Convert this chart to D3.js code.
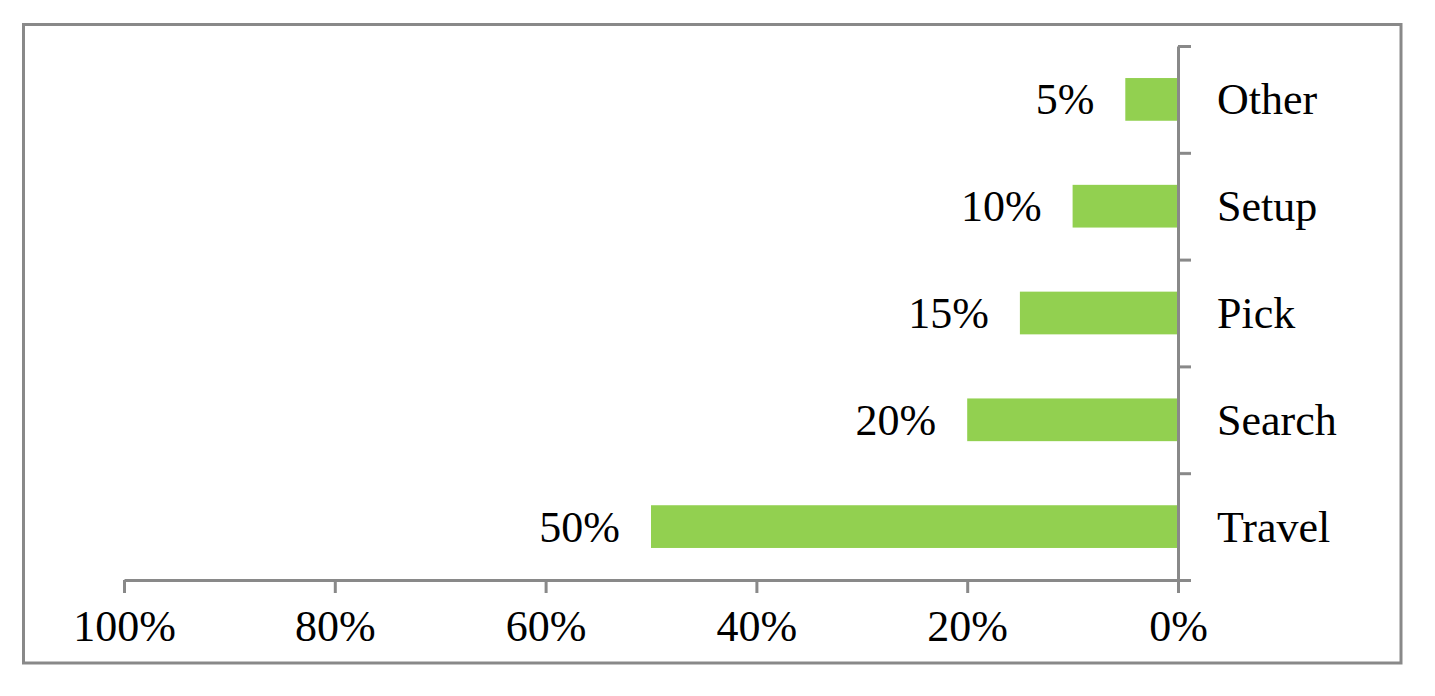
<!DOCTYPE html>
<html>
<head>
<meta charset="utf-8">
<script src="https://d3js.org/d3.v7.min.js"></script>
<style>
  html, body { margin: 0; padding: 0; background: #fff; }
  svg { display: block; }
  text { font-family: "Times New Roman", "Liberation Serif", serif; fill: #000; }
</style>
</head>
<body>
<svg id="chart" width="1435" height="696"></svg>
<script>
const categories = ["Other", "Setup", "Pick", "Search", "Travel"];
const values = [0.05, 0.10, 0.15, 0.20, 0.50];
const valueLabels = ["5%", "10%", "15%", "20%", "50%"];
const xTicks = [1.0, 0.8, 0.6, 0.4, 0.2, 0.0];
const xTickLabels = ["100%", "80%", "60%", "40%", "20%", "0%"];

const svg = d3.select("#chart");
const axisColor = "#898989";
const barColor = "#92d050";
const fontSize = 44;
const fontFam = "'Times New Roman', 'Liberation Serif', serif";

// outer border
svg.append("rect")
  .attr("x", 23.5).attr("y", 24.5)
  .attr("width", 1401 - 23.5).attr("height", 663 - 24.5)
  .attr("fill", "none").attr("stroke", axisColor).attr("stroke-width", 3);

const x = d3.scaleLinear().domain([0, 1]).range([1178, 124]);
const y = d3.scaleBand().domain(categories).range([46, 580]).paddingInner(0).paddingOuter(0);
const barH = y.step() * 0.4;

// bars
svg.append("g").selectAll("rect").data(categories).join("rect")
  .attr("x", (d, i) => x(values[i]))
  .attr("y", d => y(d) + (y.bandwidth() - barH) / 2)
  .attr("width", (d, i) => x(0) - x(values[i]))
  .attr("height", barH)
  .attr("fill", barColor);

// value labels
svg.append("g").selectAll("text").data(categories).join("text")
  .attr("x", (d, i) => x(values[i]) - 31)
  .attr("y", d => y(d) + y.bandwidth() / 2)
  .attr("dy", "0.34em")
  .attr("text-anchor", "end")
  .attr("font-size", fontSize)
  .attr("font-family", fontFam)
  .text((d, i) => valueLabels[i]);

// x axis
const xAxis = d3.axisBottom(x)
  .tickValues(xTicks)
  .tickFormat((d, i) => xTickLabels[i])
  .tickSize(13)
  .tickSizeOuter(0)
  .tickPadding(17);
const gx = svg.append("g").attr("transform", "translate(0,580)").call(xAxis);
gx.attr("font-family", fontFam).attr("font-size", fontSize);
gx.select(".domain").attr("stroke", axisColor).attr("stroke-width", 3);
gx.selectAll(".tick line").attr("stroke", axisColor).attr("stroke-width", 3);
gx.selectAll(".tick text")
  .attr("font-size", fontSize)
  .attr("font-family", fontFam)
  .attr("fill", "#000");

// y axis (category boundary ticks on right side)
const yBound = d3.scaleLinear().domain([0, categories.length]).range([46, 580]);
const gy = svg.append("g").attr("transform", "translate(1178,0)")
  .call(d3.axisRight(yBound).tickValues(d3.range(categories.length + 1)).tickFormat("").tickSize(13).tickSizeOuter(0));
gy.select(".domain").attr("stroke", axisColor).attr("stroke-width", 3);
gy.selectAll(".tick line").attr("stroke", axisColor).attr("stroke-width", 3);

// category labels
svg.append("g").selectAll("text").data(categories).join("text")
  .attr("x", 1217)
  .attr("y", d => y(d) + y.bandwidth() / 2)
  .attr("dy", "0.34em")
  .attr("text-anchor", "start")
  .attr("font-size", fontSize)
  .attr("font-family", fontFam)
  .text(d => d);
</script>
</body>
</html>
